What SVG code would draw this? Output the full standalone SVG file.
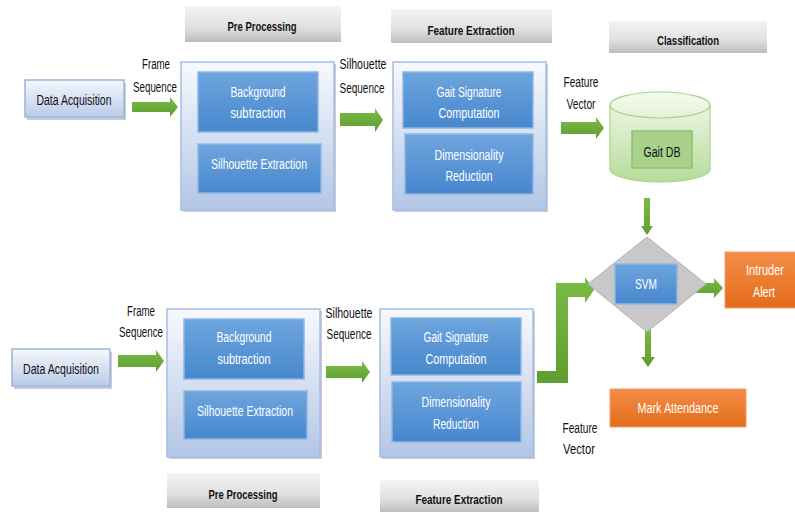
<svg xmlns="http://www.w3.org/2000/svg" width="795" height="512" viewBox="0 0 795 512">
<defs>
<linearGradient id="gBlue" x1="0" y1="0" x2="0" y2="1"><stop offset="0" stop-color="#6ea5de"/><stop offset="1" stop-color="#4787cd"/></linearGradient>
<linearGradient id="gOuter" x1="0" y1="0" x2="0" y2="1"><stop offset="0" stop-color="#f7f9fd"/><stop offset="1" stop-color="#b3c6e6"/></linearGradient>
<linearGradient id="gData" x1="0" y1="0" x2="0" y2="1"><stop offset="0" stop-color="#f6f8fc"/><stop offset="1" stop-color="#b9cbe9"/></linearGradient>
<linearGradient id="gGray" x1="0" y1="0" x2="0" y2="1"><stop offset="0" stop-color="#f4f4f4"/><stop offset="0.6" stop-color="#e0e0e0"/><stop offset="1" stop-color="#bdbdbd"/></linearGradient>
<linearGradient id="gOrange" x1="0" y1="0" x2="0" y2="1"><stop offset="0" stop-color="#f38d47"/><stop offset="1" stop-color="#e46c1b"/></linearGradient>
<linearGradient id="gCyl" x1="0" y1="0" x2="0" y2="1"><stop offset="0" stop-color="#f6faf1"/><stop offset="1" stop-color="#b6db98"/></linearGradient>
<linearGradient id="gArrow" x1="0" y1="0" x2="0" y2="1"><stop offset="0" stop-color="#7bbb47"/><stop offset="1" stop-color="#5e9e30"/></linearGradient>
<style>
text{font-family:"Liberation Sans Narrow","Liberation Sans",Arial,sans-serif;font-size:14px;text-anchor:middle}
.w{fill:#ffffff}
.k{fill:#111111}
.b{font-weight:bold;font-size:13px}
.blue{fill:url(#gBlue);stroke:#8fb6e4;stroke-width:1.5}
.outer{fill:url(#gOuter);stroke:#a7bde3;stroke-width:1.5}
.data{fill:url(#gData);stroke:#9db4dc;stroke-width:1.5}
.gray{fill:url(#gGray)}
.orange{fill:url(#gOrange);stroke:#f0a070;stroke-width:1}
.shadow{fill:#9aa3b3;opacity:0.55}
.arr{fill:url(#gArrow)}
</style>
</defs>

<g id="connectors">
<polygon class="arr" points="132,102 170,102 170,97 178,107 170,117 170,112 132,112"/>
<polygon class="arr" points="340,113 375,113 375,108 383,120 375,132 375,126 340,126"/>
<polygon class="arr" points="561,122 596,122 596,117 604,128 596,139 596,134 561,134"/>
<polygon class="arr" points="118,355 156,355 156,350 164,361 156,372 156,367 118,367"/>
<polygon class="arr" points="326,366 362,366 362,361 370,372 362,383 362,378 326,378"/>
<polygon class="arr" points="537,371 556,371 556,283 585,283 585,277 594,290 585,303 585,297 568,297 568,383 537,383"/>
<polygon class="arr" points="644,198 650,198 650,226 653,226 647,235 641,226 644,226"/>
<polygon class="arr" points="687,283 714,283 714,278 723,288 714,298 714,293 687,293"/>
<polygon class="arr" points="645,328 651,328 651,357 655,357 648,367 641,357 645,357"/>
</g>

<g id="top-data-acquisition">
<rect class="shadow" x="27" y="83" width="99" height="37"/>
<rect class="data" x="25" y="80" width="99" height="37"/>
<text class="k" x="74" y="105" textLength="75" lengthAdjust="spacingAndGlyphs">Data Acquisition</text>
</g>
<g id="top-frame-label">
<text class="k" x="156" y="69" textLength="28" lengthAdjust="spacingAndGlyphs">Frame</text>
<text class="k" x="155" y="92" textLength="44" lengthAdjust="spacingAndGlyphs">Sequence</text>
</g>

<g id="top-preprocessing-title">
<rect class="gray" x="185" y="6" width="156" height="36"/>
<text class="k b" x="262" y="31" textLength="69" lengthAdjust="spacingAndGlyphs">Pre Processing</text>
</g>
<g id="top-preprocessing">
<rect class="shadow" x="183" y="64" width="153" height="148"/>
<rect class="outer" x="181" y="62" width="153" height="148"/>
<rect class="blue" x="198" y="72" width="120" height="60"/>
<text class="w" x="258" y="97" textLength="55" lengthAdjust="spacingAndGlyphs">Background</text>
<text class="w" x="258" y="118" textLength="55" lengthAdjust="spacingAndGlyphs">subtraction</text>
<rect class="blue" x="198" y="144" width="123" height="49"/>
<text class="w" x="259" y="169" textLength="96" lengthAdjust="spacingAndGlyphs">Silhouette Extraction</text>
</g>
<g id="top-silhouette-label">
<text class="k" x="363" y="69" textLength="47" lengthAdjust="spacingAndGlyphs">Silhouette</text>
<text class="k" x="362" y="93" textLength="45" lengthAdjust="spacingAndGlyphs">Sequence</text>
</g>

<g id="top-feature-title">
<rect class="gray" x="391" y="9" width="161" height="34"/>
<text class="k b" x="471" y="35" textLength="87" lengthAdjust="spacingAndGlyphs">Feature Extraction</text>
</g>
<g id="top-feature-extraction">
<rect class="shadow" x="395" y="64" width="153" height="148"/>
<rect class="outer" x="393" y="62" width="153" height="148"/>
<rect class="blue" x="403" y="72" width="130" height="56"/>
<text class="w" x="469" y="97" textLength="65" lengthAdjust="spacingAndGlyphs">Gait Signature</text>
<text class="w" x="469" y="118" textLength="61" lengthAdjust="spacingAndGlyphs">Computation</text>
<rect class="blue" x="405" y="134" width="128" height="60"/>
<text class="w" x="469" y="160" textLength="69" lengthAdjust="spacingAndGlyphs">Dimensionality</text>
<text class="w" x="469" y="181" textLength="47" lengthAdjust="spacingAndGlyphs">Reduction</text>
</g>
<g id="top-vector-label">
<text class="k" x="581" y="87" textLength="35" lengthAdjust="spacingAndGlyphs">Feature</text>
<text class="k" x="581" y="109" textLength="29" lengthAdjust="spacingAndGlyphs">Vector</text>
</g>

<g id="classification-title">
<rect class="gray" x="609" y="21" width="158" height="32"/>
<text class="k b" x="688" y="45" textLength="62" lengthAdjust="spacingAndGlyphs">Classification</text>
</g>
<g id="gait-db">
<path d="M610,105 A50,13 0 0 1 710,105 L710,169 A50,13 0 0 1 610,169 Z" fill="url(#gCyl)" stroke="#a8d38a" stroke-width="1.2"/>
<path d="M610,105 A50,13 0 0 0 710,105" fill="none" stroke="#a8d38a" stroke-width="1.2"/>
<rect x="632" y="131" width="60" height="37" fill="#a8d18c" stroke="#8fc06b" stroke-width="1.5"/>
<text class="k" x="662" y="157" textLength="37" lengthAdjust="spacingAndGlyphs">Gait DB</text>
</g>

<g id="svm">
<polygon points="647,237 706,284 647,332 588,284" fill="#c8c8c8" stroke="#b0b0b0" stroke-width="1"/>
<rect class="blue" x="615" y="264" width="62" height="40"/>
<text class="w" x="646" y="289" textLength="22" lengthAdjust="spacingAndGlyphs">SVM</text>
</g>
<g id="intruder-alert">
<rect class="orange" x="725" y="252" width="72" height="56"/>
<text class="w" x="765" y="275" textLength="38" lengthAdjust="spacingAndGlyphs">Intruder</text>
<text class="w" x="764" y="297" textLength="22" lengthAdjust="spacingAndGlyphs">Alert</text>
</g>
<g id="mark-attendance">
<rect class="orange" x="610" y="389" width="136" height="38"/>
<text class="w" x="678" y="413" textLength="81" lengthAdjust="spacingAndGlyphs">Mark Attendance</text>
</g>

<g id="bottom-data-acquisition">
<rect class="shadow" x="14" y="352" width="98" height="37"/>
<rect class="data" x="12" y="349" width="98" height="37"/>
<text class="k" x="61" y="374" textLength="76" lengthAdjust="spacingAndGlyphs">Data Acquisition</text>
</g>
<g id="bottom-frame-label">
<text class="k" x="141" y="316" textLength="28" lengthAdjust="spacingAndGlyphs">Frame</text>
<text class="k" x="141" y="337" textLength="44" lengthAdjust="spacingAndGlyphs">Sequence</text>
</g>
<g id="bottom-preprocessing">
<rect class="shadow" x="169" y="311" width="153" height="148"/>
<rect class="outer" x="167" y="309" width="153" height="148"/>
<rect class="blue" x="184" y="319" width="120" height="60"/>
<text class="w" x="244" y="342" textLength="55" lengthAdjust="spacingAndGlyphs">Background</text>
<text class="w" x="244" y="364" textLength="53" lengthAdjust="spacingAndGlyphs">subtraction</text>
<rect class="blue" x="184" y="391" width="123" height="48"/>
<text class="w" x="245" y="416" textLength="96" lengthAdjust="spacingAndGlyphs">Silhouette Extraction</text>
</g>
<g id="bottom-preprocessing-title">
<rect class="gray" x="167" y="473" width="153" height="35"/>
<text class="k b" x="243" y="499" textLength="69" lengthAdjust="spacingAndGlyphs">Pre Processing</text>
</g>
<g id="bottom-silhouette-label">
<text class="k" x="349" y="318" textLength="47" lengthAdjust="spacingAndGlyphs">Silhouette</text>
<text class="k" x="349" y="339" textLength="45" lengthAdjust="spacingAndGlyphs">Sequence</text>
</g>
<g id="bottom-feature-extraction">
<rect class="shadow" x="382" y="311" width="153" height="148"/>
<rect class="outer" x="380" y="309" width="153" height="148"/>
<rect class="blue" x="391" y="318" width="130" height="57"/>
<text class="w" x="456" y="342" textLength="65" lengthAdjust="spacingAndGlyphs">Gait Signature</text>
<text class="w" x="456" y="364" textLength="61" lengthAdjust="spacingAndGlyphs">Computation</text>
<rect class="blue" x="392" y="382" width="129" height="60"/>
<text class="w" x="456" y="407" textLength="69" lengthAdjust="spacingAndGlyphs">Dimensionality</text>
<text class="w" x="456" y="429" textLength="46" lengthAdjust="spacingAndGlyphs">Reduction</text>
</g>
<g id="bottom-feature-title">
<rect class="gray" x="380" y="480" width="159" height="32"/>
<text class="k b" x="459" y="504" textLength="87" lengthAdjust="spacingAndGlyphs">Feature Extraction</text>
</g>
<g id="bottom-vector-label">
<text class="k" x="580" y="433" textLength="35" lengthAdjust="spacingAndGlyphs">Feature</text>
<text class="k" x="579" y="454" textLength="32" lengthAdjust="spacingAndGlyphs">Vector</text>
</g>
</svg>
